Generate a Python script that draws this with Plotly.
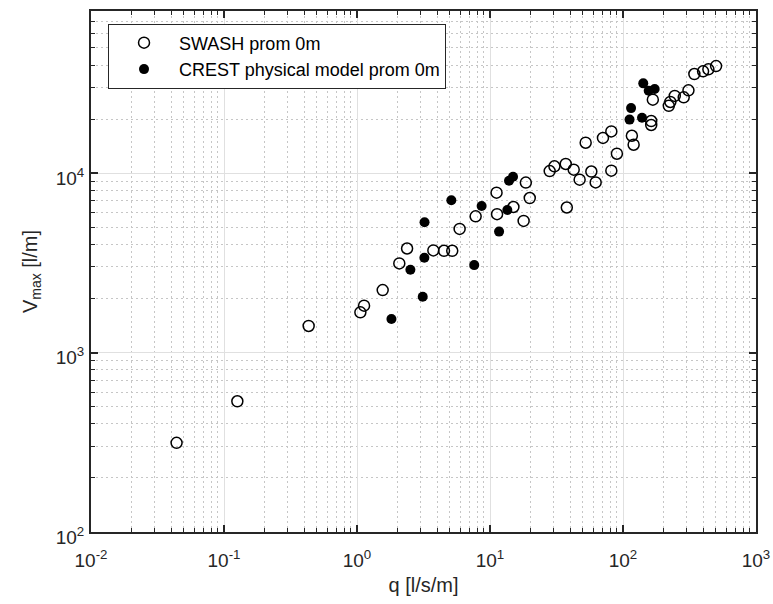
import plotly.graph_objects as go

# SWASH prom 0m (open circles)
swash_q = [0.044, 0.126, 0.433, 1.06, 1.13, 1.56, 2.08, 2.38, 3.75, 4.51, 5.2, 5.91,
           7.8, 11.2, 11.3, 15.0, 18.6, 19.9, 17.9, 28.1, 30.5, 37.1, 42.6, 47.2,
           57.8, 62.3, 37.8, 52.4, 70.7, 81.7, 90.0, 81.7, 116.6, 120.2, 163, 163,
           167.6, 221, 227, 245, 286, 310.6, 344, 400, 438.5, 501]
swash_v = [314, 535, 1406, 1675, 1824, 2229, 3138, 3800, 3706, 3690, 3690, 4886,
           5740, 7780, 5900, 6470, 8850, 7260, 5410, 10260, 10900, 11240, 10450, 9190,
           10200, 8870, 6430, 14760, 15700, 17060, 12820, 10310, 16140, 14390, 19500, 18530,
           25640, 23700, 24900, 26900, 26430, 28910, 35640, 36870, 37840, 39440]

# CREST physical model prom 0m (filled circles)
crest_q = [1.815, 3.12, 2.52, 3.21, 3.22, 5.12, 7.61, 8.65, 11.7, 13.5, 13.9, 14.9,
           112, 115, 139, 142, 156, 173]
crest_v = [1539, 2047, 2890, 3375, 5320, 7050, 3070, 6560, 4720, 6220, 9060, 9530,
           19860, 23010, 20320, 31620, 28780, 29380]

x_tick_vals = [0.01, 0.1, 1, 10, 100, 1000]
x_tick_text = ["10<sup>-2</sup>", "10<sup>-1</sup>", "10<sup>0</sup>",
               "10<sup>1</sup>", "10<sup>2</sup>", "10<sup>3</sup>"]
y_tick_vals = [100, 1000, 10000]
y_tick_text = ["10<sup>2</sup>", "10<sup>3</sup>", "10<sup>4</sup>"]

x_minor = [k * 10.0 ** e for e in range(-2, 3) for k in range(2, 10)]
y_minor = [k * 10.0 ** e for e in range(2, 5) for k in range(2, 10)]

FONT = "Liberation Sans, Arial, Helvetica, sans-serif"
AX = "#262626"

fig = go.Figure()
fig.add_trace(go.Scatter(
    x=swash_q, y=swash_v, mode="markers", name="SWASH prom 0m",
    marker=dict(symbol="circle-open", size=11, color="black", line=dict(width=1.5)),
))
fig.add_trace(go.Scatter(
    x=crest_q, y=crest_v, mode="markers", name="CREST physical model prom 0m",
    marker=dict(symbol="circle", size=10, color="black", line=dict(width=0)),
))

def axis(vals, text, minor, rng, title, standoff, lblstandoff, lblshift):
    return dict(
        type="log", range=rng, tickvals=vals, ticktext=text,
        ticks="inside", ticklen=7, tickwidth=1.5, tickcolor=AX,
        showline=True, linecolor=AX, linewidth=2, mirror="ticks",
        showgrid=True, gridcolor="#e0e0e0", gridwidth=1, zeroline=False,
        minor=dict(tickvals=minor, ticks="inside", ticklen=4, tickwidth=1, tickcolor=AX,
                   showgrid=True, gridcolor="#c6c6c6", griddash="1.5px,3.5px", gridwidth=1),
        tickfont=dict(family=FONT, size=19, color=AX),
        ticklabelstandoff=lblstandoff, ticklabelshift=lblshift,
        title=dict(text=title, font=dict(family=FONT, size=20, color=AX), standoff=standoff),
    )

fig.update_layout(
    width=773, height=604,
    margin=dict(l=91, r=17, t=11, b=72, autoexpand=False),
    paper_bgcolor="white", plot_bgcolor="white",
    xaxis=axis(x_tick_vals, x_tick_text, x_minor, [-2, 3], "q [l/s/m]", 8, 10, 0),
    yaxis=axis(y_tick_vals, y_tick_text, y_minor, [2, 4.90309], "V<sub>max</sub> [l/m]", 13, 1, 5),
    showlegend=True,
    legend=dict(x=0.0256, y=0.976, xanchor="left", yanchor="top",
                bgcolor="white", bordercolor="#262626", borderwidth=1,
                font=dict(family=FONT, size=18, color="black"), itemwidth=60),
)

# remove the page's default body margin so the figure fills the 773x604 window exactly
fig.write_html("out.html", config={"displayModeBar": False},
               post_script="document.body.style.margin='0';document.body.style.overflow='hidden';")
